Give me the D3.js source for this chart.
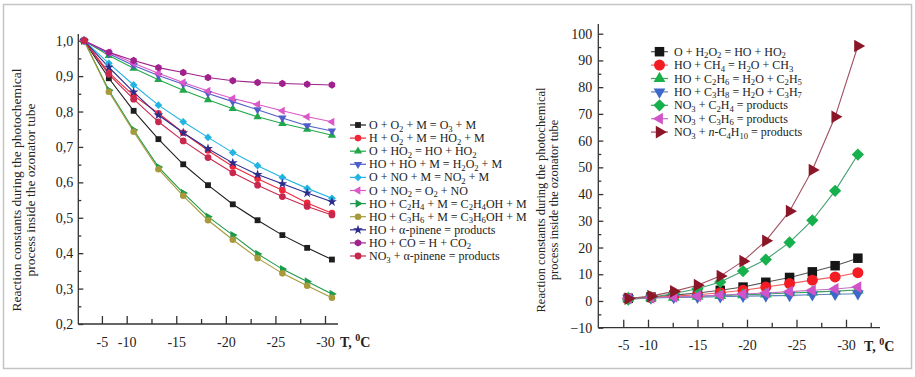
<!DOCTYPE html>
<html lang="en">
<head>
<meta charset="UTF-8">
<title>Reaction constants vs temperature</title>
<script src="https://cdn.jsdelivr.net/npm/d3@7"></script>
<style>
    body { margin: 0; background: #fff; }
    svg text { font-family: "Liberation Serif", "Times New Roman", serif; fill: #222; }
    .axis path, .axis line { stroke: #333; stroke-width: 1.3px; }
    .axis text { font-size: 14px; }
    .series { fill: none; stroke-width: 1.1px; }
    .legend text { font-size: 12px; }
    .ytitle { font-size: 12.5px; }
    .xtitle { font-size: 14px; font-weight: bold; }
</style>
</head>
<body>
<svg id="chart" width="915" height="377"></svg>
<script>
// ---- data: left panel (relative constants, k/k0) ----
const tempsLeft = [-5.7, -8.2, -10.7, -13.2, -15.7, -18.2, -20.7, -23.2, -25.7, -28.2, -30.7];
const k_O_O2_M     = [1.0, 0.894, 0.802, 0.722, 0.651, 0.592, 0.538, 0.493, 0.451, 0.415, 0.382];
const k_H_O2_M     = [1.0, 0.910, 0.845, 0.795, 0.740, 0.690, 0.645, 0.610, 0.578, 0.542, 0.513];
const k_O_HO2      = [1.0, 0.958, 0.922, 0.890, 0.860, 0.833, 0.808, 0.785, 0.766, 0.750, 0.733];
const k_HO_HO_M    = [1.0, 0.963, 0.930, 0.902, 0.877, 0.851, 0.828, 0.805, 0.782, 0.760, 0.745];
const k_O_NO_M     = [1.0, 0.936, 0.875, 0.818, 0.771, 0.727, 0.684, 0.647, 0.614, 0.583, 0.555];
const k_O_NO2      = [1.0, 0.967, 0.936, 0.908, 0.882, 0.858, 0.837, 0.820, 0.802, 0.785, 0.771];
const k_HO_C2H4_M  = [1.0, 0.860, 0.748, 0.643, 0.570, 0.503, 0.451, 0.398, 0.355, 0.320, 0.285];
const k_HO_C3H6_M  = [1.0, 0.856, 0.743, 0.637, 0.562, 0.493, 0.438, 0.386, 0.343, 0.308, 0.274];
const k_HO_pinene  = [1.0, 0.925, 0.855, 0.790, 0.740, 0.695, 0.655, 0.622, 0.596, 0.570, 0.545];
const k_HO_CO      = [1.0, 0.967, 0.944, 0.924, 0.910, 0.896, 0.887, 0.882, 0.879, 0.877, 0.875];
const k_NO3_pinene = [1.0, 0.905, 0.835, 0.771, 0.717, 0.670, 0.627, 0.592, 0.560, 0.532, 0.508];

// ---- data: right panel ----
const tempsRight = [-8.0, -10.3, -12.6, -15.0, -17.3, -19.6, -21.9, -24.3, -26.6, -28.9, -31.2];
const k_O_H2O2     = [1.0, 1.5, 2.2, 3.0, 4.0, 5.2, 7.0, 8.8, 10.9, 13.2, 16.0];
const k_HO_CH4     = [1.0, 1.3, 1.8, 2.3, 3.1, 4.0, 5.2, 6.5, 7.8, 9.0, 10.6];
const k_HO_C2H6    = [1.0, 1.2, 1.4, 1.7, 2.0, 2.3, 2.6, 3.0, 3.3, 3.7, 4.1];
const k_HO_C3H8    = [1.0, 1.1, 1.3, 1.4, 1.6, 1.8, 1.9, 2.1, 2.3, 2.5, 2.7];
const k_NO3_C2H4   = [0.5, 1.3, 2.8, 4.6, 7.1, 11.2, 15.5, 21.9, 30.2, 41.2, 54.8];
const k_NO3_C3H6   = [1.0, 1.2, 1.5, 1.8, 2.2, 2.6, 3.0, 3.5, 4.0, 4.5, 5.2];
const k_NO3_C4H10  = [0.9, 1.8, 3.6, 5.9, 9.3, 14.9, 22.5, 33.6, 49.0, 68.9, 95.4];

// ---- tick labels ----
const xTickValues = [-7.5, -10, -15, -20, -25, -30];
const xTickLabels = ["-5", "-10", "-15", "-20", "-25", "-30"];
const yTicksLeft = d3.range(0.2, 1.0001, 0.1);
const yTicksRight = d3.range(-10, 100.1, 10);
const yTitle = ["Reaction constants during the photochemical", "process inside the ozonator tube"];

// legend labels: _n = subscript, *x* = italic
const leftNames = [
    "O + O_2 + M = O_3 + M",
    "H + O_2 + M = HO_2 + M",
    "O + HO_2 = HO + HO_2",
    "HO + HO + M = H_2O_2 + M",
    "O + NO + M = NO_2 + M",
    "O + NO_2 = O_2 + NO",
    "HO + C_2H_4 + M = C_2H_4OH + M",
    "HO + C_3H_6 + M = C_3H_6OH + M",
    "HO + α-pinene = products",
    "HO + CO = H + CO_2",
    "NO_3 + α-pinene = products"
];
const rightNames = [
    "O + H_2O_2 = HO + HO_2",
    "HO + CH_4 = H_2O + CH_3",
    "HO + C_2H_6 = H_2O + C_2H_5",
    "HO + C_3H_8 = H_2O + C_3H_7",
    "NO_3 + C_2H_4 = products",
    "NO_3 + C_3H_6 = products",
    "NO_3 + *n*-C_4H_10 = products"
];

// custom hexagon symbol
const symbolHexagon = {
    draw(ctx, size) {
        const r = Math.sqrt(size / 2.598);
        for (let i = 0; i < 6; i++) {
            const a = Math.PI / 3 * i + Math.PI / 6;
            i ? ctx.lineTo(r * Math.cos(a), r * Math.sin(a)) : ctx.moveTo(r * Math.cos(a), r * Math.sin(a));
        }
        ctx.closePath();
    }
};

const leftStyle = [
    {color: "#1e1e1e", type: d3.symbolSquare, rot: 0, size: 34},
    {color: "#f0283a", type: d3.symbolCircle, rot: 0, size: 34},
    {color: "#22a84a", type: d3.symbolTriangle, rot: 0, size: 30},
    {color: "#4f5fc8", type: d3.symbolTriangle, rot: 180, size: 30},
    {color: "#22b4e2", type: d3.symbolSquare, rot: 45, size: 30},
    {color: "#dc58c8", type: d3.symbolTriangle, rot: -90, size: 30},
    {color: "#1e9a4c", type: d3.symbolTriangle, rot: 90, size: 30},
    {color: "#a89a3a", type: d3.symbolCircle, rot: 0, size: 34},
    {color: "#2c2c8c", type: d3.symbolStar, rot: 0, size: 30},
    {color: "#a0208c", type: symbolHexagon, rot: 0, size: 36},
    {color: "#c8284e", type: d3.symbolCircle, rot: 0, size: 36}
];
const rightStyle = [
    {color: "#161616", line: "#555", type: d3.symbolSquare, rot: 0, size: 90},
    {color: "#f41c24", line: "#f06060", type: d3.symbolCircle, rot: 0, size: 95},
    {color: "#1ab04a", line: "#40a060", type: d3.symbolTriangle, rot: 0, size: 60},
    {color: "#3c68c8", line: "#6080c0", type: d3.symbolTriangle, rot: 180, size: 60},
    {color: "#16b04c", line: "#40a070", type: d3.symbolSquare, rot: 45, size: 75},
    {color: "#d054c8", line: "#c070c0", type: d3.symbolTriangle, rot: -90, size: 60},
    {color: "#8a1628", line: "#a05060", type: d3.symbolTriangle, rot: 90, size: 70}
];

const leftData = [k_O_O2_M, k_H_O2_M, k_O_HO2, k_HO_HO_M, k_O_NO_M, k_O_NO2,
    k_HO_C2H4_M, k_HO_C3H6_M, k_HO_pinene, k_HO_CO, k_NO3_pinene];
const rightData = [k_O_H2O2, k_HO_CH4, k_HO_C2H6, k_HO_C3H8, k_NO3_C2H4, k_NO3_C3H6, k_NO3_C4H10];

const svg = d3.select("#chart");

// outer frame
svg.append("rect").attr("x", 3.5).attr("y", 4.5).attr("width", 908).attr("height", 364)
    .attr("fill", "none").attr("stroke", "#c4c4c4").attr("stroke-width", 1.5);

// writes text with subscripts and italics into a text element
function richText(textSel, str, fs) {
    const parts = str.split(/(_\d+|\*[^*]+\*)/).filter(s => s.length);
    let shifted = false;
    parts.forEach(p => {
        const t = textSel.append("tspan");
        if (p[0] === "_") {
            t.text(p.slice(1)).attr("font-size", fs * 0.72).attr("dy", shifted ? 0 : 2.5);
            shifted = true;
        } else {
            if (p[0] === "*") t.text(p.slice(1, -1)).attr("font-style", "italic");
            else t.text(p);
            if (shifted) t.attr("dy", -2.5);
            shifted = false;
        }
    });
}

function marker(g, st, x, y) {
    g.append("path")
        .attr("d", d3.symbol().type(st.type).size(st.size)())
        .attr("transform", `translate(${x},${y}) rotate(${st.rot})`)
        .attr("fill", st.color);
}

function drawPanel(cfg) {
    const {x, y, temps, data, styles, names} = cfg;
    const g = svg.append("g");
    const base = y.range()[0];

    // axis lines, extended a little past the scales
    g.append("line")
        .attr("x1", cfg.axisX).attr("x2", cfg.axisX)
        .attr("y1", base).attr("y2", cfg.yTop)
        .attr("stroke", "#333").attr("stroke-width", 1.3);
    g.append("line")
        .attr("x1", cfg.axisX).attr("x2", cfg.xEnd)
        .attr("y1", base).attr("y2", base)
        .attr("stroke", "#333").attr("stroke-width", 1.3);

    // y axis
    const yAxis = g.append("g").attr("class", "axis").attr("transform", `translate(${cfg.axisX},0)`)
        .call(d3.axisLeft(y).tickValues(cfg.yTicks).tickSize(-5).tickSizeOuter(0).tickPadding(cfg.yPad).tickFormat(cfg.yFmt));
    yAxis.select(".domain").remove();
    const yMinor = g.append("g").attr("class", "axis").attr("transform", `translate(${cfg.axisX},0)`)
        .call(d3.axisLeft(y).tickValues(cfg.yMinor).tickSize(-3).tickFormat(""));
    yMinor.select(".domain").remove();

    // x axis
    const xAxis = g.append("g").attr("class", "axis").attr("transform", `translate(0,${base})`)
        .call(d3.axisBottom(x).tickValues(xTickValues).tickSize(-8).tickPadding(cfg.xPad)
            .tickFormat((d, i) => xTickLabels[i]));
    xAxis.select(".domain").remove();
    const xMinor = g.append("g").attr("class", "axis").attr("transform", `translate(0,${base})`)
        .call(d3.axisBottom(x).tickValues(cfg.xMinor).tickSize(-5).tickFormat(""));
    xMinor.select(".domain").remove();

    // x title "T, °C"
    const xt = g.append("text").attr("class", "xtitle")
        .attr("x", cfg.xTitleX).attr("y", base + 23);
    xt.append("tspan").text("T, ");
    xt.append("tspan").text("0").attr("font-size", 10).attr("dy", -6);
    xt.append("tspan").text("C").attr("dy", 6);

    // y title
    const yt = g.append("text").attr("class", "ytitle")
        .attr("transform", `translate(${cfg.yTitleX},${cfg.yTitleY}) rotate(-90)`)
        .attr("text-anchor", "middle")
        .style("font-size", cfg.yTitleSize + "px");
    yt.append("tspan").attr("x", 0).attr("dy", 0).text(yTitle[0]);
    yt.append("tspan").attr("x", 0).attr("dy", cfg.yTitleSize * 1.0).text(yTitle[1]);

    // series
    const line = d3.line().x((d, i) => x(temps[i])).y(d => y(d));
    data.forEach((vals, si) => {
        const st = styles[si];
        g.append("path").datum(vals).attr("class", "series")
            .attr("stroke", st.line || st.color).attr("d", line);
    });
    data.forEach((vals, si) => {
        const st = styles[si];
        vals.forEach((v, i) => marker(g, st, x(temps[i]), y(v)));
        if (cfg.notch && si === data.length - 1) {
            vals.forEach((v, i) => g.append("path")
                .attr("d", d3.arc()({innerRadius: 1.2, outerRadius: 1.9, startAngle: 0.3, endAngle: 2.8}))
                .attr("transform", `translate(${x(temps[i])},${y(v)})`).attr("fill", "#fff"));
        }
    });

    // legend
    const lg = g.append("g").attr("class", "legend");
    names.forEach((nm, i) => {
        const ly = cfg.legY + i * cfg.legStep;
        const st = styles[i];
        lg.append("line").attr("x1", cfg.legX).attr("x2", cfg.legX + cfg.legLine)
            .attr("y1", ly).attr("y2", ly).attr("stroke", st.line || st.color).attr("stroke-width", 1.2);
        marker(lg, st, cfg.legX + cfg.legLine / 2, ly);
        const t = lg.append("text").attr("x", cfg.legX + cfg.legLine + cfg.legGap).attr("y", ly + 4);
        richText(t, nm, 12);
    });
}

// left panel
drawPanel({
    x: d3.scaleLinear().domain([-10, -30]).range([126.7, 325]),
    y: d3.scaleLinear().domain([0.2, 1.0]).range([324, 40.7]),
    temps: tempsLeft, data: leftData, styles: leftStyle, names: leftNames,
    axisX: 78.3, yTop: 34, xEnd: 338,
    yTicks: yTicksLeft, yMinor: d3.range(0.25, 1.0, 0.1), yPad: 5,
    yFmt: d => d3.format(".1f")(d).replace(".", ","),
    xMinor: [-12.5, -17.5, -22.5, -27.5], xPad: 13,
    xTitleX: 340, yTitleX: 21, yTitleY: 190, yTitleSize: 13.5,
    legX: 350, legY: 125, legStep: 13.1, legLine: 16, legGap: 3
});

// right panel
drawPanel({
    x: d3.scaleLinear().domain([-10, -30]).range([648, 846]),
    y: d3.scaleLinear().domain([-10, 100]).range([327.7, 33.7]),
    temps: tempsRight, data: rightData, styles: rightStyle, names: rightNames,
    axisX: 598.3, yTop: 24, xEnd: 880,
    yTicks: yTicksRight, yMinor: d3.range(-5, 100, 10), yPad: 6,
    yFmt: d => d < 0 ? "\u2212" + Math.abs(d) : String(d),
    xMinor: [-12.5, -17.5, -22.5, -27.5, -32.5], xPad: 12,
    xTitleX: 864, yTitleX: 545, yTitleY: 200, yTitleSize: 12.5,
    legX: 651, legY: 51.7, legStep: 13.4, legLine: 17, legGap: 6
});
</script>
</body>
</html>
